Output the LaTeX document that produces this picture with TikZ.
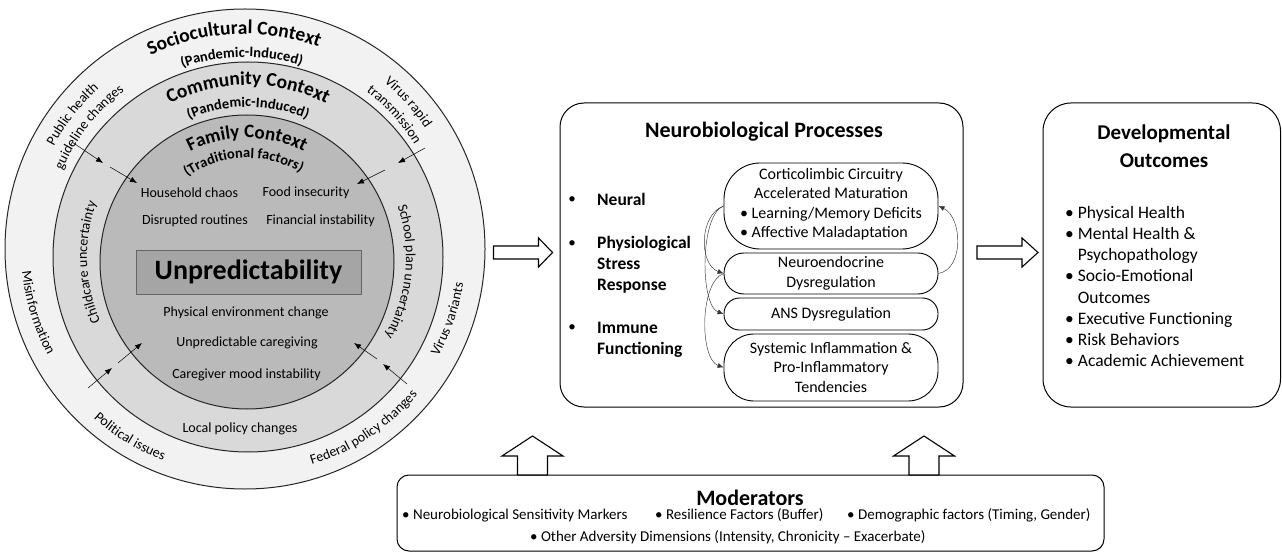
\documentclass[tikz,border=0pt]{standalone}
\usepackage{fontspec}
\setmainfont{Carlito}
\usetikzlibrary{arrows.meta,decorations.text,positioning}

\definecolor{outerring}{HTML}{F2F2F2}
\definecolor{midring}{HTML}{D9D9D9}
\definecolor{corefill}{HTML}{BABABA}
\definecolor{corebox}{HTML}{A5A5A5}

\newcommand{\ctxfont}{\fontsize{19.5}{22}\selectfont\bfseries}
\newcommand{\comfont}{\fontsize{19.5}{22}\selectfont\bfseries}
\newcommand{\famfont}{\fontsize{19}{22}\selectfont\bfseries}
\newcommand{\subfont}{\fontsize{14.5}{16}\selectfont\bfseries}
\newcommand{\rimfont}{\fontsize{14}{16}\selectfont}

% text set along an arc round a centre
\newcommand{\ringtext}[6]{%
  \path[decorate,decoration={text along path,text align=center,text={|#5|#6}}]
    (#1) ++(#3:#2) arc[start angle=#3,end angle=#4,radius=#2];}
% hollow block arrows
\newcommand{\blockright}[3]{%
  \draw[blockarrow] (#1) ++(0,6.5) -- ++(#2,0) -- ++(0,8) -- ++(#3,-14.5)
    -- ++(-#3,-14.5) -- ++(0,8) -- ++(-#2,0) -- cycle;}
\newcommand{\blockup}[1]{%
  \draw[blockarrow] (#1) ++(-15,0) -- ++(0,19) -- ++(-15.5,0) -- ++(30.5,20)
    -- ++(30.5,-20) -- ++(-15.5,0) -- ++(0,-19) -- cycle;}

\tikzset{
  ring/.style={circle, draw=black!85, line width=1pt, inner sep=0pt},
  factor/.style={font=\rimfont, inner sep=0pt},
  hit/.style={-{Latex[length=7pt,width=5.5pt]}, line width=0.5pt},
  panel/.style={draw, line width=1pt, rounded corners=24pt, inner sep=0pt},
  title/.style={font=\fontsize{22}{28}\selectfont\bfseries, inner sep=0pt, align=center},
  side/.style={font=\fontsize{17.5}{21}\selectfont\bfseries, inner sep=0pt, align=left},
  sidedot/.style={font=\fontsize{15}{18}\selectfont, inner sep=0pt},
  process/.style={draw, line width=0.9pt, minimum width=214pt, inner sep=0pt,
    align=center, font=\fontsize{16}{19.5}\selectfont},
  link/.style={-{Latex[length=6pt,width=5pt]}, line width=0.45pt, black!80},
  blockarrow/.style={draw, line width=1.1pt, fill=white},
  listtext/.style={font=\fontsize{17.5}{21.2}\selectfont, inner sep=0pt, align=left},
  modtext/.style={font=\fontsize{15}{18}\selectfont, inner sep=0pt, anchor=west},
}

\begin{document}
\begin{tikzpicture}[x=1pt,y=1pt]
  \useasboundingbox (0,0) rectangle (1282,-553);

  % context circles
  \coordinate (O1) at (245,-249);
  \coordinate (O2) at (248,-257);
  \coordinate (O3) at (247,-262);
  \node[ring, fill=outerring, minimum size=480pt] (socio) at (O1) {};
  \node[ring, fill=midring, minimum size=390pt] (community) at (O2) {};
  \node[ring, fill=corefill, minimum size=294pt] (family) at (O3) {};

  \ringtext{O1}{215}{153}{33}{\ctxfont}{Sociocultural Context}
  \ringtext{O1}{192}{151}{31}{\subfont}{(Pandemic-Induced)}
  \ringtext{O2}{172}{150}{30}{\comfont}{Community Context}
  \ringtext{O2}{150}{150}{30}{\subfont}{(Pandemic-Induced)}
  \ringtext{O3}{124}{150}{30}{\famfont}{Family Context}
  \ringtext{O3}{104}{152}{32}{\subfont}{(Traditional factors)}

  \ringtext{O1}{217}{182}{102}{\rimfont}{Public health}
  \ringtext{O1}{199}{182}{102}{\rimfont}{guideline changes}
  \ringtext{O1}{217}{82}{2}{\rimfont}{Virus rapid}
  \ringtext{O1}{199}{82}{2}{\rimfont}{transmission}
  \ringtext{O1}{224}{157}{237}{\rimfont}{Misinformation}
  \ringtext{O1}{227}{199}{278}{\rimfont}{Political issues}
  \ringtext{O1}{226}{259}{348}{\rimfont}{Federal policy changes}
  \ringtext{O1}{221}{301}{381}{\rimfont}{Virus variants}
  \ringtext{O2}{161}{222}{142}{\rimfont}{Childcare uncertainty}
  \ringtext{O2}{158}{34.5}{-45.5}{\rimfont}{School plan uncertainty}

  \node[draw=black!60, line width=0.8pt, fill=corebox, minimum width=225pt,
    minimum height=44pt, font=\fontsize{28}{30}\selectfont\bfseries]
    (unpred) at (248.5,-272) {Unpredictability};

  \node[factor] (chaos) at (189.5,-193) {Household chaos};
  \node[factor] (food) at (306,-193) {Food insecurity};
  \node[factor] (routines) at (195,-221) {Disrupted routines};
  \node[factor] (finance) at (320.5,-221) {Financial instability};
  \node[factor] (physenv) at (246,-313) {Physical environment change};
  \node[factor] (caregiving) at (247,-343) {Unpredictable caregiving};
  \node[factor] (mood) at (246.5,-375) {Caregiver mood instability};
  \node[factor] (localpol) at (240,-429) {Local policy changes};

  % pressure arrows through the rings
  \foreach \tag/\from/\to in {ula/{72,-142}/{103,-163}, ulb/{110,-167}/{137,-183},
      ura/{425,-148}/{398,-163}, urb/{385,-170}/{357,-184},
      lla/{88,-388}/{112,-368}, llb/{118,-363}/{142,-343},
      lra/{407,-384}/{383,-364}, lrb/{377,-359}/{354,-343}} {
    \coordinate (\tag-s) at (\from);
    \coordinate (\tag-e) at (\to);
    \draw[hit] (\tag-s) -- (\tag-e);
  }

  % neurobiological processes
  \node[panel, minimum width=403pt, minimum height=304pt] (neuro) at (761.5,-255) {};
  \node[title] (neurotitle) at (764,-132) {Neurobiological Processes};

  \node[side, anchor=west] (neural) at (597,-199) {Neural};
  \node[side, anchor=west] (physio) at (597,-265) {Physiological\\Stress\\Response};
  \node[side, anchor=west] (immune) at (597,-340) {Immune\\Functioning};
  \node[sidedot] (dotneural) at (572,-200.5) {\textbullet};
  \node[sidedot] (dotphysio) at (572,-244.5) {\textbullet};
  \node[sidedot] (dotimmune) at (572,-328.5) {\textbullet};

  \node[process, rounded corners=36pt, minimum height=86pt] (cortico) at (831,-206)
    {Corticolimbic Circuitry\\Accelerated Maturation\\
     \begin{tabular}[t]{@{}l@{}}\textbullet\ Learning/Memory Deficits\\
     \textbullet\ Affective Maladaptation\end{tabular}};
  \node[process, rounded corners=20pt, minimum height=41pt] (neuroendo) at (831,-273.5)
    {Neuroendocrine\\Dysregulation};
  \node[process, rounded corners=15.5pt, minimum height=32pt] (ans) at (831,-314)
    {ANS Dysregulation};
  \node[process, rounded corners=30pt, minimum height=67pt] (systemic) at (831,-367.5)
    {Systemic Inflammation \&\\Pro-Inflammatory\\Tendencies};

  \draw[link] (cortico.west) to[out=200, in=160] (neuroendo.west);
  \draw[link] (cortico.west) to[out=200, in=160, looseness=0.6] (ans.west);
  \draw[link] (neuroendo.west) to[out=200, in=160, looseness=0.7] (systemic.west);
  \draw[link] (neuroendo.east) to[out=10, in=-25] (cortico.east);

  % developmental outcomes
  \node[panel, rounded corners=28pt, minimum width=237.5pt, minimum height=304pt]
    (outcomes) at (1161.75,-255) {};
  \node[title, font=\fontsize{21}{28}\selectfont\bfseries] (outtitle) at (1164,-146)
    {Developmental\\Outcomes};
  \node[listtext, anchor=west] (outlist) at (1065,-286.5)
    {\textbullet\ Physical Health\\
     \textbullet\ Mental Health \&\\
     \hphantom{\textbullet\ }Psychopathology\\
     \textbullet\ Socio-Emotional\\
     \hphantom{\textbullet\ }Outcomes\\
     \textbullet\ Executive Functioning\\
     \textbullet\ Risk Behaviors\\
     \textbullet\ Academic Achievement};

  % moderators
  \node[panel, rounded corners=12pt, minimum width=707pt, minimum height=76pt]
    (moder) at (750.5,-513) {};
  \node[title] (modtitle) at (750,-498) {Moderators};
  \node[modtext] (sens) at (402,-515.5) {\textbullet\ Neurobiological Sensitivity Markers};
  \node[modtext] (resil) at (655,-515.5) {\textbullet\ Resilience Factors (Buffer)};
  \node[modtext] (demog) at (847,-515.5) {\textbullet\ Demographic factors (Timing, Gender)};
  \node[modtext] (advers) at (530,-537.5)
    {\textbullet\ Other Adversity Dimensions (Intensity, Chronicity -- Exacerbate)};

  % block arrows
  \coordinate (toneuro) at ([xshift=8pt,yshift=-3.5pt]socio.east);
  \coordinate (toout) at (977,-252.5);
  \coordinate (upleft) at (532.5,-475);
  \coordinate (upright) at (924,-475);
  \blockright{toneuro}{45}{14}
  \blockright{toout}{45}{16}
  \blockup{upleft}
  \blockup{upright}
\end{tikzpicture}
\end{document}
